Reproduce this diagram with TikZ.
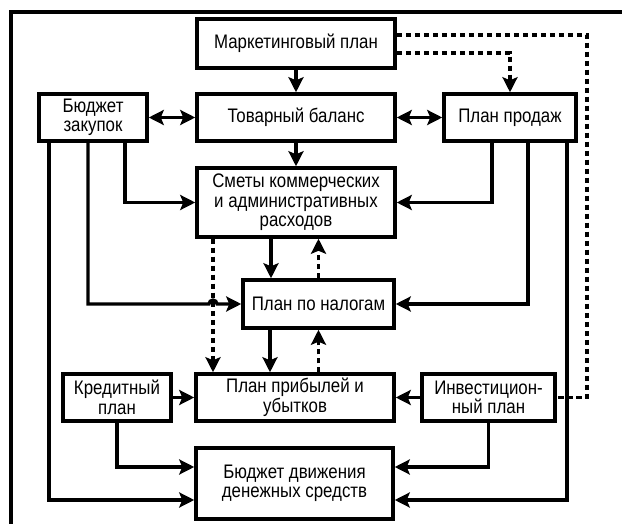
\documentclass[tikz,border=0pt]{standalone}
\usepackage{fontspec}
\setmainfont[FakeStretch=0.86]{Liberation Sans}
\usetikzlibrary{arrows.meta}
\begin{document}
\begin{tikzpicture}[x=1pt,y=-1pt,
  box/.style={draw, line width=3.5pt, inner sep=0pt, align=center,
    font=\fontsize{19.6}{19.5}\selectfont},
  conn/.style={line width=3.2pt, -{Stealth[length=15pt,width=15pt,inset=3pt]}},
  biconn/.style={line width=3.2pt, {Stealth[length=15pt,width=15pt,inset=3pt]}-{Stealth[length=15pt,width=15pt,inset=3pt]}},
  dconn/.style={conn, dash pattern=on 5.5pt off 3.5pt},
  dline/.style={line width=3.2pt, dash pattern=on 5.5pt off 3.5pt},
  frame/.style={line width=4pt}]
\useasboundingbox (0,0) rectangle (622,524);
% outer frame
\draw[frame] (10.5,530) -- (10.5,12) -- (630,12);
% boxes
\node[box, minimum width=198pt, minimum height=49pt] (mark) at (296,43.5) {Маркетинговый план};
\node[box, minimum width=108pt, minimum height=47pt] (zak) at (93,117.5) {Бюджет\\закупок};
\node[box, minimum width=198pt, minimum height=47pt] (tov) at (296,117.5) {Товарный баланс};
\node[box, minimum width=132pt, minimum height=47pt] (prod) at (510,117.5) {План продаж};
\node[box, minimum width=198pt, minimum height=69pt] (smet) at (296,202.5) {Сметы коммерческих\\и административных\\расходов};
\node[box, minimum width=151pt, minimum height=48pt] (nal) at (318.5,304) {План по налогам};
\node[box, minimum width=198pt, minimum height=47pt] (prib) at (295,397.5) {План прибылей и\\убытков};
\node[box, minimum width=108pt, minimum height=47pt] (kred) at (117,397.5) {Кредитный\\план};
\node[box, minimum width=133pt, minimum height=47pt] (inv) at (488.5,397.5) {Инвестицион-\\ный план};
\node[box, minimum width=197pt, minimum height=71pt] (bud) at (294.5,483.5) {Бюджет движения\\денежных средств};
% coordinates
\coordinate (rt) at (587,35);
\coordinate (hopA) at (209,304);
% top chain
\draw[conn] (mark.south) -- (tov.north);
\draw[conn] (tov.south) -- (smet.north);
\draw[biconn] (zak.east) -- (tov.west);
\draw[biconn] (tov.east) -- (prod.west);
% dashed from marketing
\draw[dconn] ([yshift=-9.5pt]mark.east) -| (prod.north);
\draw[dline] ([yshift=8.5pt]mark.east) -- (rt) |- (inv.east);
% from purchase budget
\draw[conn] ([xshift=32pt]zak.south) |- (smet.west);
\draw[conn] ([xshift=-5pt]zak.south) |- (hopA) arc[start angle=180, end angle=0, radius=4pt] -- (nal.west);
\draw[conn] ([xshift=-44pt]zak.south) |- ([yshift=-16.5pt]bud.west);
% from sales plan
\draw[conn] ([xshift=-18pt]prod.south) |- (smet.east);
\draw[conn] ([xshift=18pt]prod.south) |- (nal.east);
\draw[conn] ([xshift=57pt]prod.south) |- ([yshift=-16.5pt]bud.east);
% credit plan
\draw[conn] (kred.east) -- (prib.west);
\draw[conn] (kred.south) |- ([yshift=16.5pt]bud.west);
% investment plan
\draw[conn] (inv.west) -- (prib.east);
\draw[conn] (inv.south) |- ([yshift=16.5pt]bud.east);
% middle links
\draw[conn] ([xshift=-25pt]smet.south) -- ([xshift=-25pt]smet.south |- nal.north);
\draw[dconn] (nal.north) -- (nal.north |- smet.south);
\draw[dconn] ([xshift=-83pt]smet.south) -- ([xshift=-83pt]smet.south |- prib.north);
\draw[conn] ([xshift=-48.5pt]nal.south) -- ([xshift=-48.5pt]nal.south |- prib.north);
\draw[dconn] (prib.north -| nal.north) -- (nal.south);
\end{tikzpicture}
\end{document}
